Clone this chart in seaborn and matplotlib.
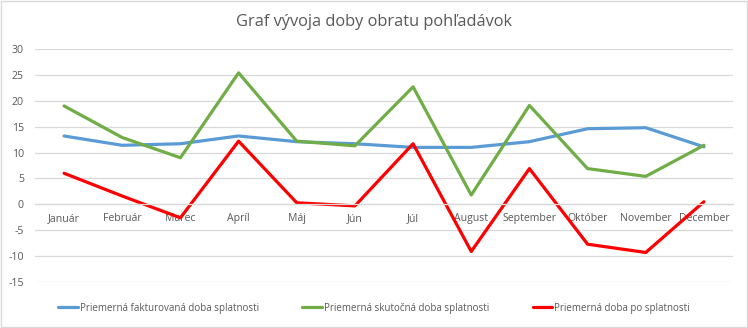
import matplotlib
matplotlib.use("Agg")
import matplotlib.pyplot as plt
import seaborn as sns
import pandas as pd
from matplotlib.lines import Line2D

months = ["Január", "Február", "Marec", "Apríl", "Máj", "Jún", "Júl",
          "August", "September", "Október", "November", "December"]
fakturovana = [13.2, 11.4, 11.7, 13.2, 12.1, 11.7, 11.0, 11.0, 12.1, 14.6, 14.8, 11.1]
skutocna = [19.0, 12.9, 9.0, 25.4, 12.2, 11.3, 22.7, 1.8, 19.1, 6.9, 5.4, 11.4]
po_splatnosti = [6.0, 1.6, -2.6, 12.2, 0.3, -0.3, 11.7, -9.1, 6.9, -7.7, -9.3, 0.5]
series_names = ["Priemerná fakturovaná doba splatnosti",
                "Priemerná skutočná doba splatnosti",
                "Priemerná doba po splatnosti"]
colors = ["#5B9BD5", "#70AD47", "#FF0000"]

rows = []
for name, vals in zip(series_names, [fakturovana, skutocna, po_splatnosti]):
    for i, (m, v) in enumerate(zip(months, vals)):
        rows.append({"idx": i, "month": m, "value": v, "series": name})
df = pd.DataFrame(rows)

sns.set_theme(style="white")
plt.rcParams["font.family"] = ["Open Sans", "DejaVu Sans"]
plt.rcParams["axes.unicode_minus"] = False

fig = plt.figure(figsize=(7.48, 3.28), dpi=100)
ax = fig.add_axes([35/748, 1-282/328, (733-35)/748, (282-49)/328])

sns.lineplot(data=df, x="idx", y="value", hue="series", hue_order=series_names,
             palette=colors, linewidth=2.3, sort=False, ax=ax, legend=False)

ax.set_xlim(-0.5, 11.5)
ax.set_ylim(-15, 30)
ax.set_yticks(range(-15, 31, 5))
ax.yaxis.grid(True, color="#D9D9D9", linewidth=0.9)
ax.set_axisbelow(True)
for s in ["left", "right", "top"]:
    ax.spines[s].set_visible(False)
ax.spines["bottom"].set_position(("data", 0))
ax.spines["bottom"].set_color("#D9D9D9")
ax.spines["bottom"].set_linewidth(0.9)
ax.set_xticks(range(len(months)))
ax.set_xticklabels(months)
ax.tick_params(axis="x", length=0, pad=6, labelsize=7.6, labelcolor="#595959")
ax.tick_params(axis="y", length=0, pad=8, labelsize=7.6, labelcolor="#595959")
ax.set_xlabel("")
ax.set_ylabel("")

fig.text(0.5, 1-22/328, "Graf vývoja doby obratu pohľadávok", ha="center", va="center",
         fontsize=11.8, color="#595959")

handles = [Line2D([0], [0], color=c, linewidth=2.3) for c in colors]
fig.legend(handles, series_names, loc="center", bbox_to_anchor=(0.5, 1-308/328),
           ncol=3, frameon=False, labelcolor="#595959", fontsize=7,
           handlelength=2.0, handletextpad=0.2, columnspacing=4.5)

border = plt.Rectangle((0.001, 0.002), 0.997, 0.995, transform=fig.transFigure,
                       fill=False, edgecolor="#D9D9D9", linewidth=1)
fig.patches.append(border)

fig.savefig("out.png", dpi=100)
